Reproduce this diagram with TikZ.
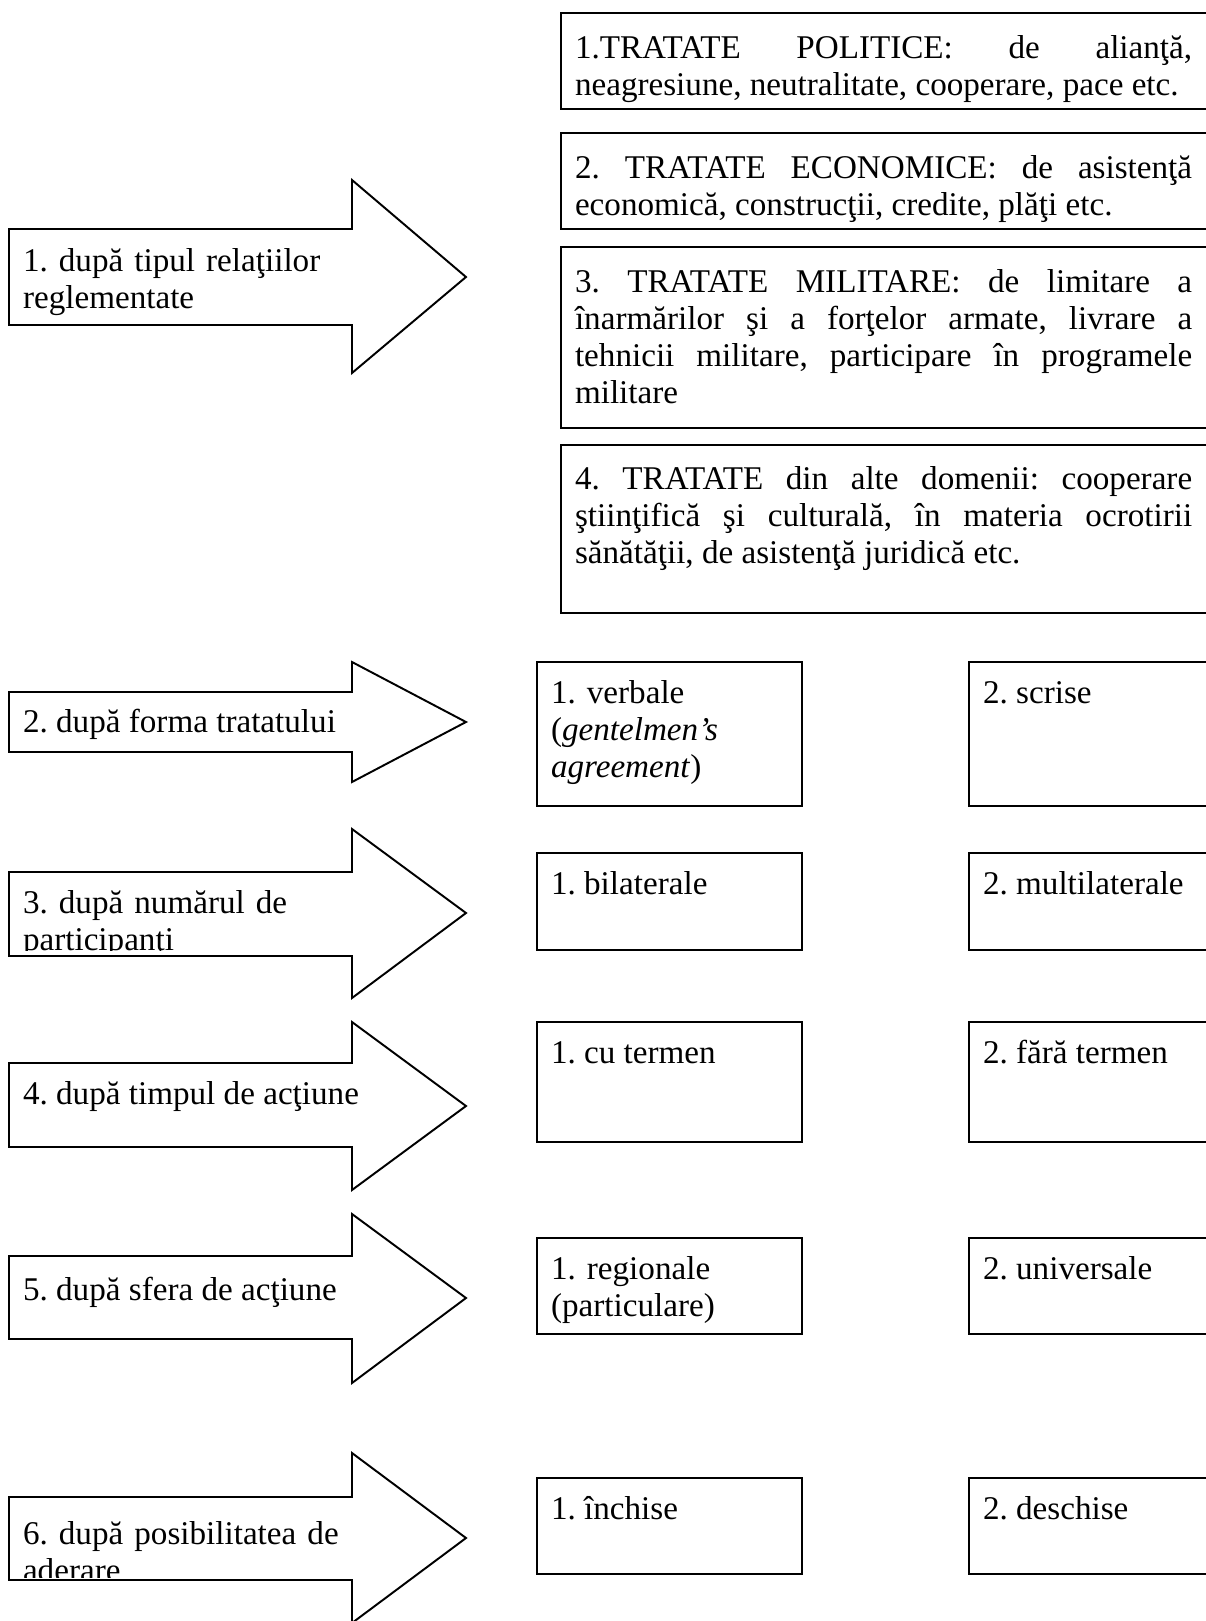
\documentclass[tikz,border=0pt]{standalone}
\usepackage{fontspec}
\setmainfont{Liberation Serif}
\frenchspacing
\newlength{\TW}
\setlength{\TW}{270pt}
\newlength{\SW}
\setlength{\SW}{105pt}
\newlength{\AW}
\setlength{\AW}{145pt}
\newcommand{\jl}[1]{{\parfillskip=0pt\relax #1\par}}
\begin{document}
\begin{tikzpicture}[x=0.4375pt,y=-0.4375pt,line width=0.85pt,
  txt/.style={anchor=base west,inner sep=0pt,outer sep=0pt,
    font=\fontsize{14.5}{16.2}\selectfont,align=left},
  bigtxt/.style={anchor=base west,inner sep=0pt,outer sep=0pt,
    font=\fontsize{14.5}{16.2}\selectfont,align=justify,text width=\TW},
  smalltxt/.style={txt,text width=\SW},
  arrtxt/.style={txt,text width=\AW},
  outl/.style={draw=black,line join=miter}]
\useasboundingbox (0,0) rectangle (1206,1621);
\clip (0,0) rectangle (1206,1621);

% ---------- top boxes ----------
\draw[outl] (561,13) rectangle (1230,109);
\node[bigtxt] (t1) at (575,58) {\jl{1.TRATATE POLITICE: de alianţă,}neagresiune, neutralitate, cooperare, pace etc.};
\draw[outl] (561,133) rectangle (1230,229);
\node[bigtxt] (t2) at (575,178) {\jl{2. TRATATE ECONOMICE: de asistenţă}economică, construcţii, credite, plăţi etc.};
\draw[outl] (561,247) rectangle (1230,428);
\node[bigtxt] (t3) at (575,292) {\jl{3. TRATATE MILITARE: de limitare a}\jl{înarmărilor şi a forţelor armate, livrare a}\jl{tehnicii militare, participare în programele}militare};
\draw[outl] (561,445) rectangle (1230,613);
\node[bigtxt] (t4) at (575,489) {\jl{4. TRATATE din alte domenii: cooperare}\jl{ştiinţifică şi culturală, în materia ocrotirii}sănătăţii, de asistenţă juridică etc.};

% ---------- arrows ----------
\draw[outl] (9,229) -- (352,229) -- (352,180) -- (466,277) -- (352,373) -- (352,325) -- (9,325) -- cycle;
\node[arrtxt] (a1) at (23,271) {1. după tipul relaţiilor\\reglementate};
\draw[outl] (9,692) -- (352,692) -- (352,662) -- (466,722) -- (352,782) -- (352,752) -- (9,752) -- cycle;
\node[txt] (a2) at (23,732) {2. după forma tratatului};
\draw[outl] (9,872) -- (352,872) -- (352,829) -- (466,913) -- (352,998) -- (352,956) -- (9,956) -- cycle;
\begin{scope}
\clip (9,872) rectangle (352,950);
\node[arrtxt] (a3) at (23,913) {3. după numărul de\\participanţi};
\end{scope}
\draw[outl] (9,1063) -- (352,1063) -- (352,1022) -- (466,1106) -- (352,1190) -- (352,1147) -- (9,1147) -- cycle;
\node[txt] (a4) at (23,1104) {4. după timpul de acţiune};
\draw[outl] (9,1256) -- (352,1256) -- (352,1214) -- (466,1298) -- (352,1383) -- (352,1339) -- (9,1339) -- cycle;
\node[txt] (a5) at (23,1300) {5. după sfera de acţiune};
\draw[outl] (9,1497) -- (352,1497) -- (352,1453) -- (466,1538) -- (352,1623) -- (352,1580) -- (9,1580) -- cycle;
\begin{scope}
\clip (9,1497) rectangle (352,1577);
\node[arrtxt] (a6) at (23,1544) {6. după posibilitatea de\\aderare};
\end{scope}

% ---------- small boxes, left column ----------
\draw[outl] (537,662) rectangle (802,806);
\node[smalltxt] (l2) at (551,703) {1. verbale\\(\textit{gentelmen’s}\\\textit{agreement})};
\draw[outl] (537,853) rectangle (802,950);
\node[txt] (l3) at (551,894) {1. bilaterale};
\draw[outl] (537,1022) rectangle (802,1142);
\node[txt] (l4) at (551,1063) {1. cu termen};
\draw[outl] (537,1238) rectangle (802,1334);
\node[smalltxt] (l5) at (551,1279) {1. regionale\\(particulare)};
\draw[outl] (537,1478) rectangle (802,1574);
\node[txt] (l6) at (551,1519) {1. închise};

% ---------- small boxes, right column ----------
\draw[outl] (969,662) rectangle (1230,806);
\node[txt] (r2) at (983,703) {2. scrise};
\draw[outl] (969,853) rectangle (1230,950);
\node[txt] (r3) at (983,894) {2. multilaterale};
\draw[outl] (969,1022) rectangle (1230,1142);
\node[txt] (r4) at (983,1063) {2. fără termen};
\draw[outl] (969,1238) rectangle (1230,1334);
\node[txt] (r5) at (983,1279) {2. universale};
\draw[outl] (969,1478) rectangle (1230,1574);
\node[txt] (r6) at (983,1519) {2. deschise};
\end{tikzpicture}
\end{document}
